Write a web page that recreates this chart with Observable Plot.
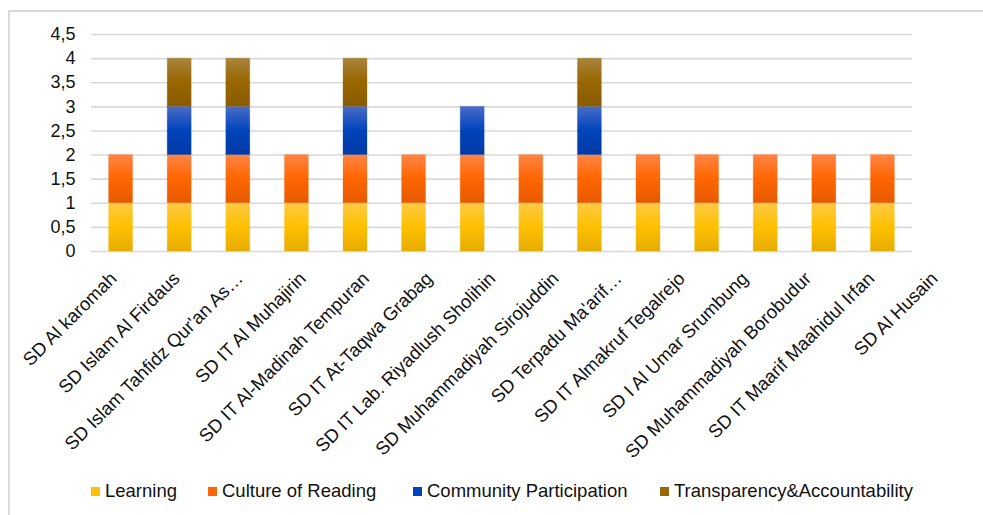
<!DOCTYPE html>
<html>
<head>
<meta charset="utf-8">
<script src="https://cdn.jsdelivr.net/npm/d3@7"></script>
<script src="https://cdn.jsdelivr.net/npm/@observablehq/plot@0.6"></script>
<style>
  html, body { margin: 0; padding: 0; background: #fff; }
  body { width: 983px; height: 515px; overflow: hidden; position: relative; font-family: "Liberation Sans", Arial, sans-serif; }
  #frame { position: absolute; left: 8px; top: 10px; width: 1000px; height: 520px; border-left: 2px solid #d9d9d9; border-top: 2px solid #d9d9d9; box-sizing: border-box; }
  #chart, #labels { position: absolute; left: 0; top: 0; }
  #legend { position: absolute; top: 480px; left: 0; width: 983px; height: 22px; }
  .item { position: absolute; top: 0; display: flex; align-items: center; font-size: 18.5px; color: #111; white-space: nowrap; line-height: 22px; }
  .sw { width: 9px; height: 9px; margin-right: 5px; }
</style>
</head>
<body>
<div id="frame"></div>
<div id="chart"></div>
<div id="labels"></div>
<div id="legend"></div>
<script>
const schools = [
  "SD Al karomah",
  "SD Islam Al Firdaus",
  "SD Islam Tahfidz Qur'an As…",
  "SD IT Al Muhajirin",
  "SD IT Al-Madinah Tempuran",
  "SD IT At-Taqwa Grabag",
  "SD IT Lab. Riyadlush Sholihin",
  "SD Muhammadiyah Sirojuddin",
  "SD Terpadu Ma'arif…",
  "SD IT Almakruf Tegalrejo",
  "SD I Al Umar Srumbung",
  "SD Muhammadiyah Borobudur",
  "SD IT Maarif Maahidul Irfan",
  "SD Al Husain"
];
const seriesNames = ["Learning", "Culture of Reading", "Community Participation", "Transparency&Accountability"];
const learning      = [1,1,1,1,1,1,1,1,1,1,1,1,1,1];
const culture       = [1,1,1,1,1,1,1,1,1,1,1,1,1,1];
const community     = [0,1,1,0,1,0,1,0,1,0,0,0,0,0];
const transparency  = [0,1,1,0,1,0,0,0,1,0,0,0,0,0];
const yTicks = [0, 0.5, 1, 1.5, 2, 2.5, 3, 3.5, 4, 4.5];

const seriesValues = [learning, culture, community, transparency];
const swatch = ["#FFC000", "#FF6600", "#0044BB", "#996600"];
const grads = [
  ["#FFCA45", "#FFC000", "#E6AC00"],
  ["#FF8444", "#FF6600", "#E65A00"],
  ["#4A6CC8", "#0044BB", "#0039A6"],
  ["#A8843C", "#996600", "#8A5C00"]
];

const table = [];
seriesNames.forEach((s, i) => {
  schools.forEach((c, j) => {
    if (seriesValues[i][j] > 0) table.push({school: c, series: s, value: seriesValues[i][j]});
  });
});

const W = 983, H = 460;
const font = "'Liberation Sans', Arial, sans-serif";
const chart = Plot.plot({
  width: W,
  height: H,
  marginLeft: 91,
  marginRight: 71,
  marginTop: 34,
  marginBottom: 209,
  style: { fontFamily: font, color: "#111", background: "transparent" },
  x: { domain: schools, paddingInner: 0.59, paddingOuter: 0.3, round: false, label: null, axis: null },
  y: { domain: [0, 4.5], label: null },
  color: { domain: seriesNames, range: seriesNames.map((s, i) => `url(#grad${i})`) },
  marks: [
    Plot.gridY(yTicks, { stroke: "#d9d9d9", strokeOpacity: 1, strokeWidth: 1.6 }),
    Plot.barY(table, Plot.stackY({ x: "school", y: "value", fill: "series", order: seriesNames, stroke: "series", strokeOpacity: 0.25, strokeWidth: 1 })),
    Plot.axisY({ ticks: yTicks, tickSize: 0, tickPadding: 16, fontSize: 18, tickFormat: d => String(d).replace(".", ","), label: null })
  ]
});

const svg = d3.select(chart);
const defs = svg.insert("defs", ":first-child");
grads.forEach((g, i) => {
  const lg = defs.append("linearGradient").attr("id", `grad${i}`).attr("x1", 0).attr("y1", 0).attr("x2", 0).attr("y2", 1);
  lg.append("stop").attr("offset", "0%").attr("stop-color", g[0]);
  lg.append("stop").attr("offset", "50%").attr("stop-color", g[1]);
  lg.append("stop").attr("offset", "100%").attr("stop-color", g[2]);
});
document.getElementById("chart").appendChild(chart);

// category labels (spread slightly wider than the bars, as in the original)
const labels = Plot.plot({
  width: W,
  height: 478,
  marginLeft: 113,
  marginRight: 49,
  marginTop: 34,
  marginBottom: 227,
  style: { fontFamily: font, color: "#111", background: "transparent", overflow: "visible" },
  x: { type: "point", domain: schools, padding: 0, round: false, label: null },
  marks: [
    Plot.axisX({ tickSize: 0, tickPadding: 24, tickRotate: -45, fontSize: 18.5, label: null })
  ]
});
document.getElementById("labels").appendChild(labels);

// legend
const lefts = [91, 208, 413, 660];
const legend = document.getElementById("legend");
seriesNames.forEach((s, i) => {
  const it = document.createElement("div");
  it.className = "item";
  it.style.left = lefts[i] + "px";
  const sw = document.createElement("span");
  sw.className = "sw";
  sw.style.background = swatch[i];
  const tx = document.createElement("span");
  tx.textContent = s;
  it.appendChild(sw);
  it.appendChild(tx);
  legend.appendChild(it);
});
</script>
</body>
</html>
